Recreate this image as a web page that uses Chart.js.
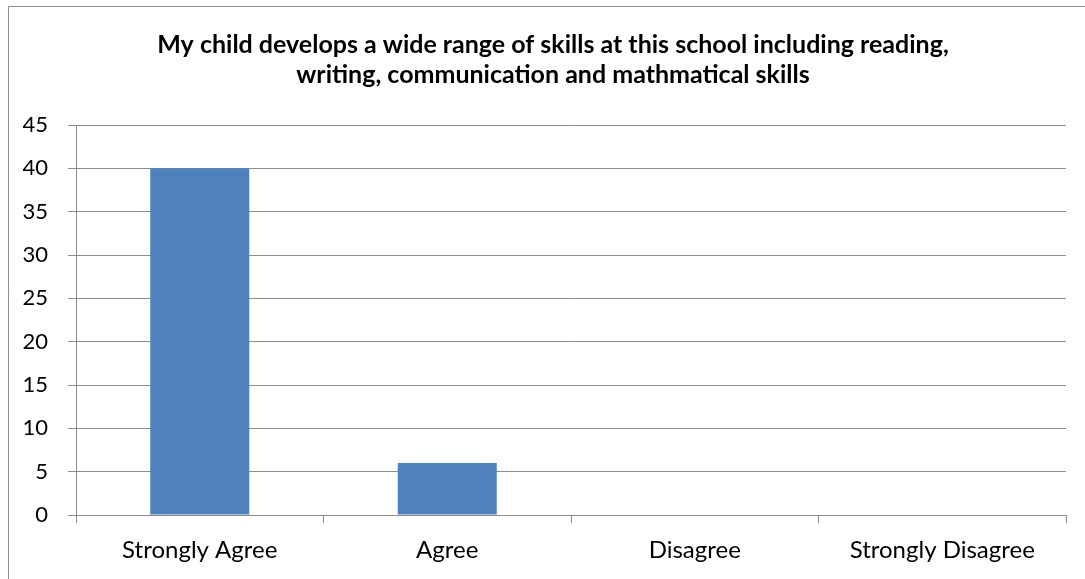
<!DOCTYPE html>
<html>
<head>
<meta charset="utf-8">
<script src="https://cdn.jsdelivr.net/npm/chart.js@4.4.0/dist/chart.umd.min.js"></script>
<style>
  html, body { margin: 0; padding: 0; background: #fff; }
  #wrap { position: relative; width: 1085px; height: 579px; }
</style>
</head>
<body>
<div id="wrap"><canvas id="c" width="1085" height="579"></canvas></div>
<script>
const titleLines = [
  "My child develops a wide range of skills at this school including reading,",
  "writing, communication and mathmatical skills"
];
const categories = ["Strongly Agree", "Agree", "Disagree", "Strongly Disagree"];
const responses = [40, 6, 0, 0];
const yMin = 0;
const yMax = 45;
const yStep = 5;

const FONT = "Lato, 'Open Sans', sans-serif";
const GRID = "#8c8c8c";

const framePlugin = {
  id: "frame",
  afterLayout(chart) {
    if (chart.titleBlock) {
      chart.titleBlock.left = 40;
      chart.titleBlock.right = 1066;
    }
  },
  afterDraw(chart) {
    const ctx = chart.ctx;
    ctx.save();
    ctx.strokeStyle = GRID;
    ctx.lineWidth = 1;
    ctx.beginPath();
    ctx.moveTo(8.5, 579);
    ctx.lineTo(8.5, 6.5);
    ctx.lineTo(1085, 6.5);
    ctx.stroke();
    ctx.restore();
  }
};

new Chart(document.getElementById("c"), {
  type: "bar",
  data: {
    labels: categories,
    datasets: [{
      data: responses,
      backgroundColor: "#4F81BD",
      borderWidth: 0,
      barPercentage: 0.4,
      categoryPercentage: 1.0
    }]
  },
  options: {
    responsive: false,
    animation: false,
    devicePixelRatio: 1,
    layout: { padding: { left: 0, right: 19, top: 0, bottom: 0 } },
    plugins: {
      legend: { display: false },
      tooltip: { enabled: false },
      title: {
        display: true,
        text: titleLines,
        color: "#000",
        font: { family: FONT, size: 25, weight: "bold", lineHeight: 1.2 },
        padding: { top: 30, bottom: 35 }
      }
    },
    scales: {
      x: {
        offset: true,
        grid: { display: true, drawOnChartArea: false, drawTicks: true, tickLength: 8, color: GRID, offset: true },
        border: { color: GRID, width: 1 },
        ticks: { color: "#000", font: { family: FONT, size: 24 }, padding: 13 },
        afterFit(scale) { scale.height = 64; }
      },
      y: {
        min: yMin,
        max: yMax,
        ticks: { stepSize: yStep, color: "#000", font: { family: FONT, size: 22 }, padding: 20 },
        grid: { color: GRID, tickLength: 8, lineWidth: 1 },
        border: { color: GRID, width: 1 },
        afterFit(scale) { scale.width = 76; }
      }
    }
  },
  plugins: [framePlugin]
});
</script>
</body>
</html>
